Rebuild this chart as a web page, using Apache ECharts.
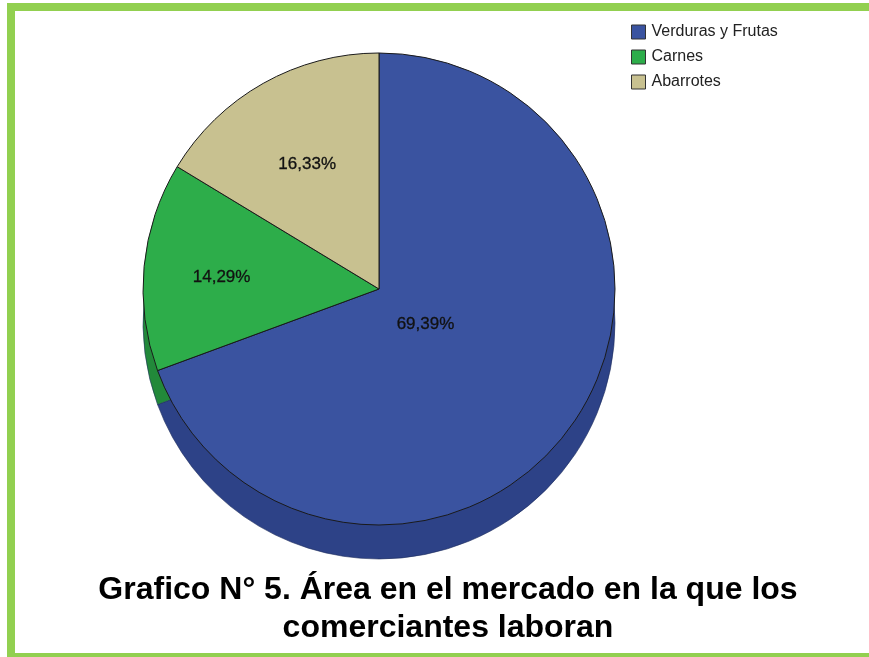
<!DOCTYPE html>
<html>
<head>
<meta charset="utf-8">
<script src="https://cdn.jsdelivr.net/npm/echarts@6/dist/echarts.min.js"></script>
<style>
  html, body { margin: 0; padding: 0; background: #fff; overflow: hidden; }
  #frame {
    position: absolute; left: 7px; top: 3px; right: -30px; height: 642px;
    border-top: 8px solid #92d050; border-left: 8px solid #92d050; border-bottom: 8px solid #92d050;
  }
  #main { position: absolute; left: 0; top: 0; width: 869px; height: 657px; }
</style>
</head>
<body>
<div id="frame"></div>
<div id="main"></div>
<script>
// datos del grafico
var categorias = ['Verduras y Frutas', 'Carnes', 'Abarrotes'];
var porcentajes = [69.39, 14.29, 16.33];
var etiquetas = ['69,39%', '14,29%', '16,33%'];

var coloresCara = ['#3a53a0', '#2dad4a', '#c8c190'];
var coloresLado = ['#2d4287', '#22893a', '#a39c70'];

var cx = 379, cy = 289, radio = 236, grosor = 34;
// distancia de cada etiqueta al centro (fraccion del radio)
var distEtiqueta = [0.24, 0.67, 0.62];

var myChart = echarts.init(document.getElementById('main'));

var caraData = categorias.map(function (c, i) {
    return { name: c, value: porcentajes[i], itemStyle: { color: coloresCara[i] } };
});
var ladoData = categorias.map(function (c, i) {
    return { name: c, value: porcentajes[i], itemStyle: { color: coloresLado[i] } };
});

var option = {
    animation: false,
    title: {
        text: 'Grafico N° 5. Área en el mercado en la que los\ncomerciantes laboran',
        left: 448,
        top: 571,
        padding: 0,
        textAlign: 'center',
        textStyle: {
            fontFamily: 'Liberation Sans, Arial, sans-serif',
            fontSize: 32,
            fontWeight: 'bold',
            color: '#000',
            lineHeight: 38
        }
    },
    legend: {
        orient: 'vertical',
        left: 631,
        top: 24,
        padding: 0,
        itemWidth: 14,
        itemHeight: 14,
        itemGap: 9,
        icon: 'rect',
        data: categorias,
        itemStyle: { borderColor: '#333', borderWidth: 1 },
        textStyle: {
            fontFamily: 'Liberation Sans, Arial, sans-serif',
            fontSize: 16,
            padding: [0, 0, 0, 1],
            color: '#222'
        }
    },
    series: [
        {
            name: 'cara',
            type: 'pie',
            z: 3,
            center: [cx, cy],
            radius: radio,
            startAngle: 90,
            clockwise: true,
            silent: true,
            itemStyle: { borderColor: '#1a1a1a', borderWidth: 1 },
            label: {
                position: 'inside',
                formatter: function (p) { return etiquetas[p.dataIndex]; },
                fontFamily: 'Liberation Sans, Arial, sans-serif',
                fontSize: 17,
                color: '#111',
                textBorderColor: '#111',
                textBorderWidth: 0.3
            },
            labelLine: { show: false },
            labelLayout: function (p) {
                var r = p.labelRect;
                var lx = r.x + r.width / 2, ly = r.y + r.height / 2;
                var dx = lx - cx, dy = ly - cy;
                var d = Math.sqrt(dx * dx + dy * dy) || 1;
                var f = distEtiqueta[p.dataIndex] * radio / d;
                return { x: cx + dx * f, y: cy + dy * f + 3 };
            },
            data: caraData
        },
        {
            name: 'lado',
            type: 'pie',
            z: 1,
            center: [cx, cy + grosor],
            radius: radio,
            startAngle: 90,
            clockwise: true,
            silent: true,
            itemStyle: { borderColor: '#1f2d5c', borderWidth: 0.6 },
            label: { show: false },
            labelLine: { show: false },
            data: ladoData
        }
    ]
};
myChart.setOption(option);
</script>
</body>
</html>
